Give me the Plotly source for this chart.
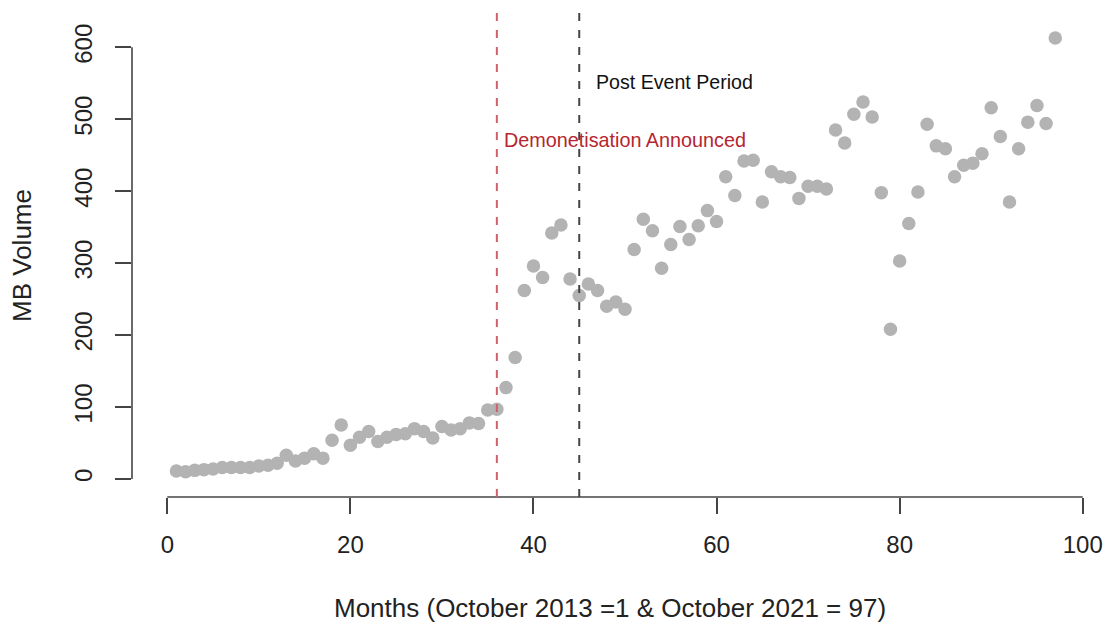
import plotly.graph_objects as go

months = list(range(1, 98))
mb_volume = [
    11, 10, 12, 13, 14, 16, 16, 16, 16, 18,
    19, 22, 33, 25, 29, 35, 29, 54, 75, 47,
    58, 66, 52, 58, 62, 63, 70, 66, 57, 73,
    68, 70, 78, 77, 96, 97, 127, 169, 262, 296,
    280, 342, 353, 278, 255, 271, 262, 240, 246, 236,
    319, 361, 345, 293, 326, 351, 333, 352, 373, 358,
    420, 394, 442, 443, 385, 427, 420, 419, 390, 407,
    407, 403, 485, 467, 507, 524, 503, 398, 208, 303,
    355, 399, 493, 463, 459, 420, 436, 439, 452, 516,
    476, 385, 459, 496, 519, 494, 613,
]
x_ticks = [0, 20, 40, 60, 80, 100]
y_ticks = [0, 100, 200, 300, 400, 500, 600]
event_month = 36
post_month = 45

FONT = "Liberation Sans, Arial, Helvetica, sans-serif"
AXIS_COL = "#444444"

fig = go.Figure()
fig.add_trace(go.Scatter(
    x=months, y=mb_volume, mode="markers",
    marker=dict(size=13.5, color="#b3b3b3", line=dict(width=0)),
    hoverinfo="x+y", showlegend=False,
))

fig.update_layout(
    width=1110, height=629,
    margin=dict(l=132, r=0, t=13, b=132),
    paper_bgcolor="white", plot_bgcolor="white",
    font=dict(family=FONT, color="#222222"),
    xaxis=dict(
        range=[-3.856, 102.98], tickvals=x_ticks, ticktext=[str(v) for v in x_ticks],
        showgrid=False, zeroline=False, showline=False,
        ticks="outside", ticklen=16, tickwidth=1.6, tickcolor=AXIS_COL,
        tickfont=dict(size=24, family=FONT, color="#222222"),
        ticklabelstandoff=10,
    ),
    yaxis=dict(
        range=[-25.02, 647.67], tickvals=y_ticks, ticktext=[str(v) for v in y_ticks],
        showgrid=False, zeroline=False, showline=False,
        ticks="outside", ticklen=16, tickwidth=1.6, tickcolor=AXIS_COL,
        tickangle=-90,
        tickfont=dict(size=24, family=FONT, color="#222222"),
        ticklabelstandoff=13,
    ),
)

# R-style axis lines spanning only the tick range
fig.add_shape(type="line", xref="x", yref="paper", x0=x_ticks[0], x1=x_ticks[-1], y0=0, y1=0,
              line=dict(color=AXIS_COL, width=1.6))
fig.add_shape(type="line", xref="paper", yref="y", x0=0, x1=0, y0=y_ticks[0], y1=y_ticks[-1],
              line=dict(color=AXIS_COL, width=1.6))

# event lines
fig.add_shape(type="line", xref="x", yref="paper", x0=event_month, x1=event_month, y0=0, y1=1,
              line=dict(color="#d0606a", width=2, dash="8px,9px"))
fig.add_shape(type="line", xref="x", yref="paper", x0=post_month, x1=post_month, y0=0, y1=1,
              line=dict(color="#444444", width=2, dash="8px,9px"))

fig.add_annotation(x=46.6, y=552, xref="x", yref="y", text="Post Event Period",
                   showarrow=False, xanchor="left", yanchor="middle",
                   font=dict(size=19.6, family=FONT, color="#111111"))
fig.add_annotation(x=36.6, y=471, xref="x", yref="y", text="Demonetisation Announced",
                   showarrow=False, xanchor="left", yanchor="middle",
                   font=dict(size=19.8, family=FONT, color="#b5262e"))

# axis titles
fig.add_annotation(x=0.489, y=-0.2293, xref="paper", yref="paper",
                   text="Months (October 2013 =1 & October 2021 = 97)",
                   showarrow=False, xanchor="center", yanchor="middle",
                   font=dict(size=26, family=FONT, color="#222222"))
fig.add_annotation(x=-0.1125, y=0.5, xref="paper", yref="paper", text="MB Volume",
                   showarrow=False, xanchor="center", yanchor="middle", textangle=-90,
                   font=dict(size=26, family=FONT, color="#222222"))

fig.write_html("out.html")
